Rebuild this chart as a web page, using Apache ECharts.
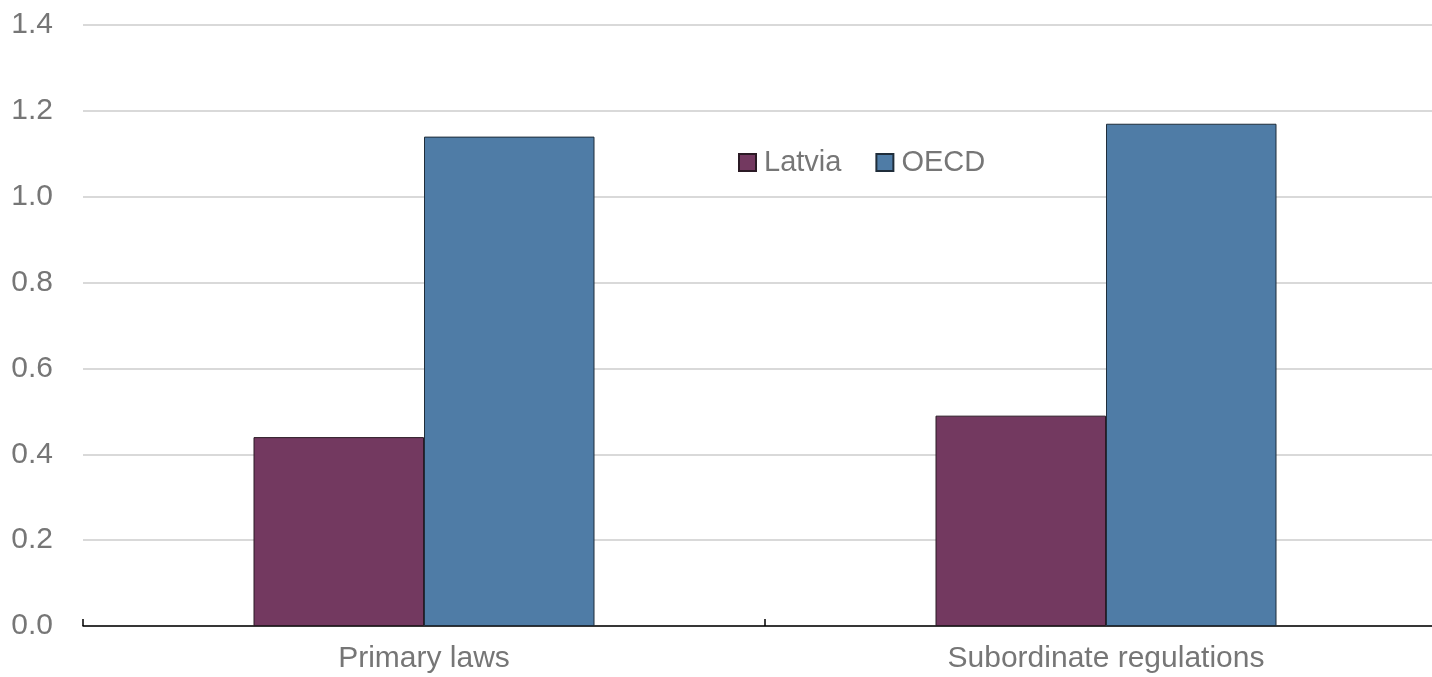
<!DOCTYPE html>
<html><head><meta charset="utf-8">
<script src="https://cdn.jsdelivr.net/npm/echarts@6/dist/echarts.min.js"></script>
<style>html,body{margin:0;padding:0;background:#fff}#c{width:1432px;height:677px}</style>
</head><body><div id="c"></div>
<script>
const categories = ['Primary laws', 'Subordinate regulations'];
const latvia = [0.44, 0.49];
const oecd = [1.14, 1.17];
const yTicks = [0, 0.2, 0.4, 0.6, 0.8, 1.0, 1.2, 1.4];

const FONT = '"Liberation Sans Narrow", "Arial Narrow", "Liberation Sans", sans-serif';
const chart = echarts.init(document.getElementById('c'));
chart.setOption({
  animation: false,
  textStyle: { fontFamily: FONT },
  grid: { left: 83, width: 1364, top: 25, bottom: 51, outerBoundsMode: 'none', containLabel: false },
  legend: {
    left: 733, top: 143, itemWidth: 17, itemHeight: 17, itemGap: 34,
    icon: 'rect',
    textStyle: { fontFamily: FONT, fontSize: 29, color: '#767676', padding: [0, 0, 0, 3] },
    data: ['Latvia', 'OECD']
  },
  xAxis: {
    type: 'category', data: categories,
    axisLine: { lineStyle: { color: '#000', width: 1.5 } },
    axisTick: { show: true, inside: true, length: 7, lineStyle: { color: '#000', width: 1.5 } },
    axisLabel: { fontFamily: FONT, fontSize: 30, color: '#767676', margin: 18 }
  },
  yAxis: {
    type: 'value', min: 0, max: 1.4, interval: 0.2,
    axisLine: { show: false }, axisTick: { show: false },
    splitLine: { lineStyle: { color: '#cccccc', width: 1.5 } },
    axisLabel: { fontFamily: FONT, fontSize: 30, color: '#767676', margin: 30,
      formatter: v => yTicks.find(t => Math.abs(t - v) < 1e-9).toFixed(1) }
  },
  series: [
    { name: 'Latvia', type: 'bar', data: latvia, barWidth: '25%', barGap: '0%',
      itemStyle: { color: '#733960', borderColor: '#2b1a25', borderWidth: 1 } },
    { name: 'OECD', type: 'bar', data: oecd, barWidth: '25%', barGap: '0%',
      itemStyle: { color: '#4f7ca6', borderColor: '#1f2d3a', borderWidth: 1 } }
  ]
});
</script></body></html>
